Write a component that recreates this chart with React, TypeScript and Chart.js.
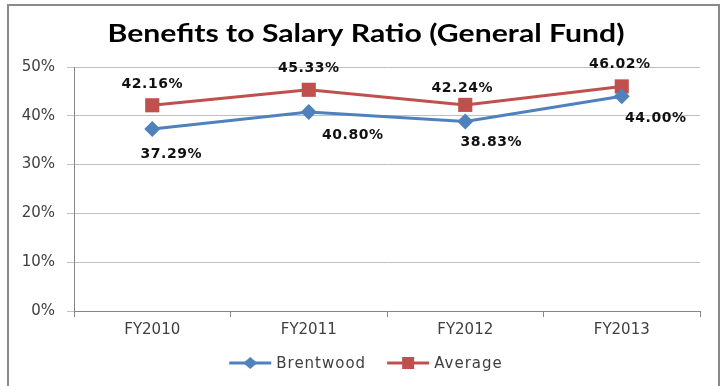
import React, { useEffect, useRef } from "react";
import { Chart, registerables } from "chart.js";

Chart.register(...registerables);

const categories = ["FY2010", "FY2011", "FY2012", "FY2013"];
const brentwood = [37.29, 40.8, 38.83, 44.0];
const average = [42.16, 45.33, 42.24, 46.02];
const seriesNames = ["Brentwood", "Average"];
const titleText = "Benefits to Salary Ratio (General Fund)";

// label placement relative to each point (px)
const brentwoodLabelOffsets = [
  [19, 25],
  [44, 23],
  [26, 21],
  [34, 22],
];
const averageLabelOffsets = [
  [0, -21],
  [0, -21],
  [-3, -17],
  [-2, -22],
];

const BLUE = "#4f81bd";
const RED = "#c0504d";

const decorPlugin = {
  id: "decor",
  beforeDraw(chart: any) {
    const ctx = chart.ctx;
    ctx.save();
    ctx.fillStyle = "#ffffff";
    ctx.fillRect(0, 0, chart.width, chart.height);
    ctx.strokeStyle = "#8a8a8a";
    ctx.lineWidth = 2;
    ctx.strokeRect(8, 5, 711, 400);
    ctx.restore();
  },
  afterDraw(chart: any) {
    const ctx = chart.ctx;
    ctx.save();
    // title (stretched to the reference's width)
    ctx.fillStyle = "#000000";
    ctx.font = "bold 24px Lato";
    ctx.textAlign = "center";
    ctx.textBaseline = "middle";
    const tw = ctx.measureText(titleText).width;
    ctx.save();
    ctx.translate(366, 34);
    ctx.scale(517 / tw, 1);
    ctx.fillText(titleText, 0, 0);
    ctx.restore();

    // data labels
    ctx.font = "bold 14px 'DejaVu Sans'";
    (ctx as any).letterSpacing = "0.5px";
    ctx.fillStyle = "#111111";
    const offs = [brentwoodLabelOffsets, averageLabelOffsets];
    chart.data.datasets.forEach((ds: any, di: number) => {
      const meta = chart.getDatasetMeta(di);
      meta.data.forEach((pt: any, i: number) => {
        const v = ds.data[i];
        const [dx, dy] = offs[di][i];
        ctx.fillText(v.toFixed(2) + "%", pt.x + dx, pt.y + dy);
      });
    });

    // legend
    ctx.font = "15px 'DejaVu Sans'";
    (ctx as any).letterSpacing = "1px";
    ctx.textAlign = "left";
    const lineLen = 42;
    const gapText = 5;
    const gapItem = 21;
    const w0 = ctx.measureText(seriesNames[0]).width;
    const w1 = ctx.measureText(seriesNames[1]).width;
    const total = lineLen + gapText + w0 + gapItem + lineLen + gapText + w1;
    let x = 366 - total / 2;
    const y = 363;
    const items = [
      { name: seriesNames[0], color: BLUE, style: "diamond", w: w0 },
      { name: seriesNames[1], color: RED, style: "square", w: w1 },
    ];
    items.forEach((it) => {
      ctx.strokeStyle = it.color;
      ctx.lineWidth = 3;
      ctx.beginPath();
      ctx.moveTo(x, y);
      ctx.lineTo(x + lineLen, y);
      ctx.stroke();
      ctx.fillStyle = it.color;
      const cx = x + lineLen / 2;
      ctx.beginPath();
      if (it.style === "diamond") {
        ctx.moveTo(cx - 7, y);
        ctx.lineTo(cx, y - 6);
        ctx.lineTo(cx + 7, y);
        ctx.lineTo(cx, y + 6);
        ctx.closePath();
      } else {
        ctx.rect(cx - 6, y - 6, 12, 12);
      }
      ctx.fill();
      ctx.fillStyle = "#404040";
      ctx.fillText(it.name, x + lineLen + gapText, y + 1);
      x += lineLen + gapText + it.w + gapItem;
    });
    (ctx as any).letterSpacing = "0px";
    ctx.restore();
  },
};

export default function App() {
  const ref = useRef<HTMLCanvasElement>(null);
  useEffect(() => {
    if (!ref.current) return;
    const chart = new Chart(ref.current, {
      type: "line",
      data: {
        labels: categories,
        datasets: [
          {
            label: seriesNames[0],
            data: brentwood,
            borderColor: BLUE,
            backgroundColor: BLUE,
            borderWidth: 3,
            pointStyle: "rectRot",
            pointRadius: 8,
            pointBorderWidth: 0,
            tension: 0,
          },
          {
            label: seriesNames[1],
            data: average,
            borderColor: RED,
            backgroundColor: RED,
            borderWidth: 3,
            pointStyle: "rect",
            pointRadius: 10,
            pointBorderWidth: 0,
            tension: 0,
          },
        ],
      },
      options: {
        responsive: false,
        animation: false,
        layout: { padding: { top: 67, right: 26, bottom: 45, left: 0 } },
        plugins: {
          legend: { display: false },
          title: { display: false },
          tooltip: { enabled: false },
        },
        scales: {
          x: {
            type: "category",
            offset: true,
            grid: {
              offset: true,
              drawOnChartArea: false,
              drawTicks: true,
              tickLength: 6,
              color: "#868686",
            },
            border: { color: "#868686", width: 1 },
            ticks: {
              color: "#404040",
              font: { family: "'DejaVu Sans'", size: 15 },
              padding: 4,
            },
            afterFit: (s: any) => {
              s.height = 30;
            },
          },
          y: {
            min: 0,
            max: 50,
            ticks: {
              stepSize: 10,
              color: "#404040",
              font: { family: "'DejaVu Sans'", size: 15 },
              padding: 12,
              callback: (v: any) => v + "%",
            },
            grid: { color: "#bfbfbf", tickLength: 7 },
            border: { color: "#868686", width: 1 },
            afterFit: (s: any) => {
              s.width = 74;
            },
          },
        },
      },
      plugins: [decorPlugin],
    });
    return () => chart.destroy();
  }, []);
  return (
    <canvas
      ref={ref}
      width={726}
      height={386}
      style={{ position: "fixed", left: 0, top: 0, display: "block" }}
    />
  );
}
